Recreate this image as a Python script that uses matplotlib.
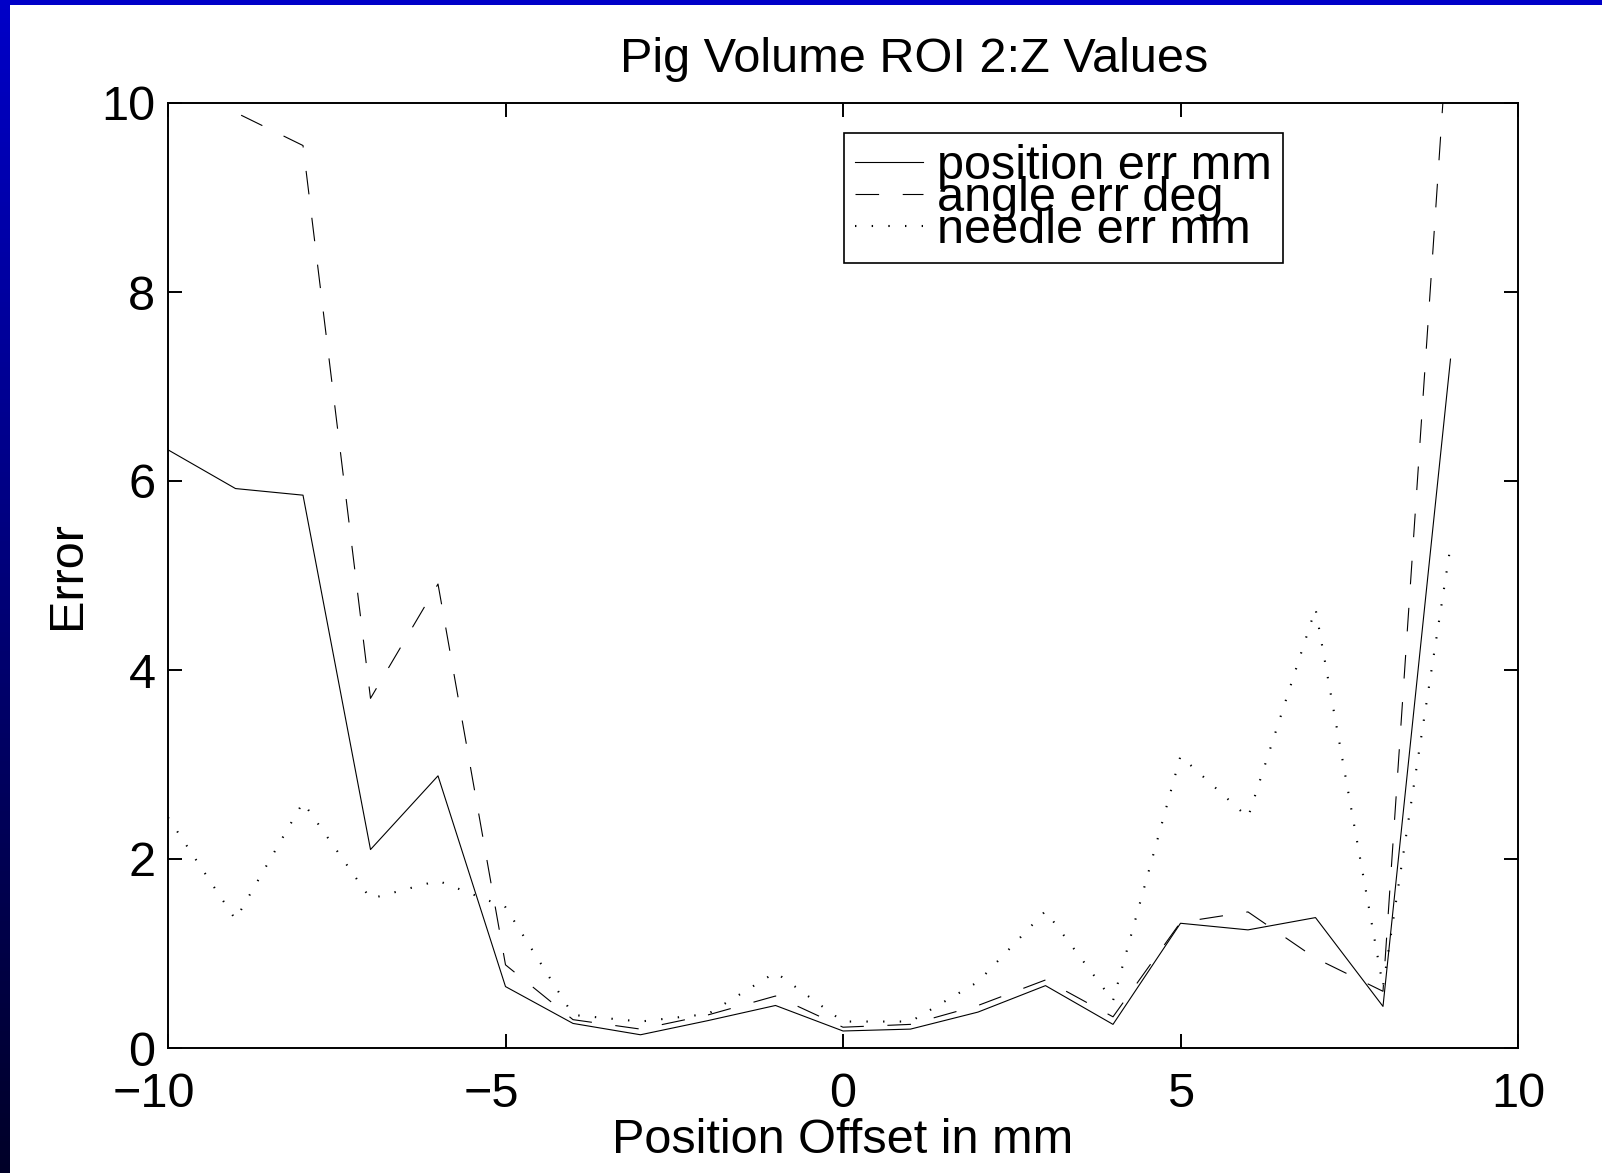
import numpy as np
import matplotlib
matplotlib.use("Agg")
import matplotlib.pyplot as plt
from matplotlib.transforms import ScaledTranslation

plt.rcParams['font.family'] = ['Liberation Sans', 'DejaVu Sans']
plt.rcParams['lines.scale_dashes'] = False

x_offset = [-10, -9, -8, -7, -6, -5, -4, -3, -2, -1, 0, 1, 2, 3, 4, 5, 6, 7, 8, 9]
position_err = [6.33, 5.92, 5.85, 2.10, 2.88, 0.65, 0.26, 0.14, 0.29, 0.45,
                0.18, 0.20, 0.38, 0.66, 0.25, 1.32, 1.25, 1.38, 0.44, 7.29]
angle_err = [10.5, 9.9, 9.55, 3.70, 4.91, 0.88, 0.30, 0.20, 0.35, 0.55,
             0.22, 0.25, 0.45, 0.72, 0.33, 1.33, 1.44, 0.95, 0.60, 11.2]
needle_err = [2.44, 1.36, 2.60, 1.58, 1.77, 1.49, 0.35, 0.28, 0.36, 0.80,
              0.28, 0.28, 0.70, 1.45, 0.50, 3.09, 2.44, 4.65, 0.65, 5.31]
labels = ['position err mm', 'angle err deg', 'needle err mm']
title = 'Pig Volume ROI 2:Z Values'
xlabel = 'Position Offset in mm'
ylabel = 'Error'
xticks = [-10, -5, 0, 5, 10]
xticklabels = ['\u221210', '\u22125', '0', '5', '10']
yticks = [0, 2, 4, 6, 8, 10]

W, H = 1602, 1173
fig = plt.figure(figsize=(W / 100, H / 100), dpi=100)
fig.patch.set_facecolor('white')

# blue slide border (top bar + left gradient bar)
top_ax = fig.add_axes([0, 1 - 5 / H, 1, 5 / H])
top_ax.set_axis_off()
top_ax.imshow(np.array([[[0, 0, 200]]], dtype=np.uint8), aspect='auto', extent=(0, 1, 0, 1))
left_ax = fig.add_axes([0, 0, 10 / W, 1])
left_ax.set_axis_off()
grad = np.linspace(0, 1, 256)
top_col = np.array([0, 0, 200]) / 255
bot_col = np.array([0, 0, 40]) / 255
img = (top_col[None, :] * (1 - grad[:, None]) + bot_col[None, :] * grad[:, None])[:, None, :]
left_ax.imshow(img, aspect='auto', extent=(0, 1, 0, 1))

ax = fig.add_axes([168 / W, 1 - 1048 / H, 1350 / W, 945 / H])
fs = 35
ax.plot(x_offset, position_err, color='black', lw=0.8, linestyle='-', label=labels[0])
ax.plot(x_offset, angle_err, color='black', lw=0.8, linestyle=(0, (17, 17)), label=labels[1])
ax.plot(x_offset, needle_err, color='black', lw=1.5, linestyle=(0, (1, 11)), label=labels[2])

ax.set_xlim(-10, 10)
ax.set_ylim(0, 10)
ax.set_xticks(xticks)
ax.set_yticks(yticks)
ax.set_xticklabels(xticklabels)
ax.tick_params(direction='in', length=10, width=1.4, top=True, right=True,
               labelsize=fs, colors='black')
ax.tick_params(axis='x', pad=17)
ax.tick_params(axis='y', pad=9)
for s in ax.spines.values():
    s.set_linewidth(1.4)
    s.set_color('black')

# digits centred on the tick, minus sign hanging to the left
minus_half = 0.292 * fs / 72.0
for lab in ax.get_xticklabels():
    if lab.get_text().startswith('\u2212'):
        lab.set_transform(lab.get_transform() + ScaledTranslation(-minus_half, 0, fig.dpi_scale_trans))

ax.set_title(title, fontsize=fs, pad=22, x=0.553)
ax.set_xlabel(xlabel, fontsize=fs, labelpad=1)
ax.set_ylabel(ylabel, fontsize=fs, labelpad=8)

leg = ax.legend(loc='upper left', bbox_to_anchor=(0.5007, 0.968), borderaxespad=0,
                fontsize=fs, frameon=True, fancybox=False, framealpha=1,
                edgecolor='black', labelspacing=-0.27, handlelength=1.4,
                handletextpad=0.3, borderpad=0.22)
leg.get_frame().set_linewidth(1.2)

fig.savefig('out.png', dpi=100)
